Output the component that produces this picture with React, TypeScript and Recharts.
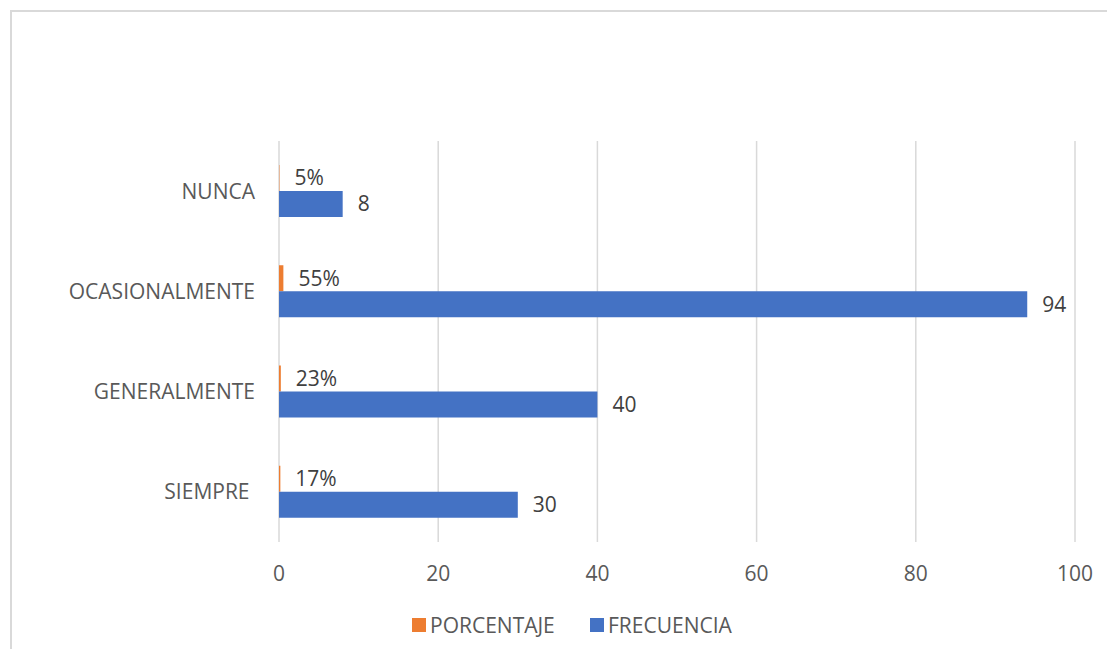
import React from 'react';
import { BarChart, Bar, XAxis, YAxis, CartesianGrid, LabelList, Legend } from 'recharts';

const categories = ['NUNCA', 'OCASIONALMENTE', 'GENERALMENTE', 'SIEMPRE\u00A0'];
const porcentaje = [0.05, 0.55, 0.23, 0.17];
const frecuencia = [8, 94, 40, 30];
const xTicks = [0, 20, 40, 60, 80, 100];
const seriesNames = ['PORCENTAJE', 'FRECUENCIA'];

const ORANGE = '#ED7D31';
const BLUE = '#4472C4';
const FONT = '"Open Sans", "Noto Sans", sans-serif';
const FS = 21;

const data = categories.map((c, i) => ({
  name: c,
  PORCENTAJE: porcentaje[i],
  FRECUENCIA: frecuencia[i],
}));

const LegendContent = () => (
  <div style={{ position: 'relative', width: 400, height: 28, fontFamily: FONT, fontSize: FS, color: '#595959' }}>
    {[
      { name: seriesNames[0], color: ORANGE, left: 0 },
      { name: seriesNames[1], color: BLUE, left: 178 },
    ].map((it) => (
      <div key={it.name} style={{ position: 'absolute', left: it.left, top: 0, height: 28, display: 'flex', alignItems: 'center' }}>
        <span style={{ display: 'inline-block', width: 14, height: 14, background: it.color, marginRight: 4 }} />
        <span style={{ whiteSpace: 'nowrap' }}>{it.name}</span>
      </div>
    ))}
  </div>
);

export default function App() {
  return (
    <div style={{ position: 'relative', width: 1115, height: 657, margin: -8, overflow: 'hidden', background: '#fff' }}>
      <div
        style={{
          position: 'absolute',
          left: 10,
          top: 10,
          width: 1200,
          height: 800,
          border: '2px solid #d9d9d9',
          boxSizing: 'border-box',
        }}
      />
      <div style={{ position: 'absolute', left: 0, top: 0 }}>
        <BarChart
          width={1115}
          height={657}
          data={data}
          layout="vertical"
          margin={{ top: 141, right: 40, bottom: 85, left: 0 }}
          barGap={0}
          style={{ fontFamily: FONT }}
        >
          <CartesianGrid horizontal={false} stroke="#d9d9d9" strokeWidth={1.5} />
          <XAxis
            type="number"
            domain={[0, 100]}
            ticks={xTicks}
            height={30}
            axisLine={false}
            tickLine={false}
            tickSize={0}
            tickMargin={24}
            tick={{ fill: '#595959', fontSize: FS, fontFamily: FONT }}
            interval={0}
          />
          <YAxis
            type="category"
            dataKey="name"
            width={279}
            axisLine={false}
            tickLine={false}
            tickSize={0}
            tickMargin={24}
            tick={{ fill: '#595959', fontSize: FS, fontFamily: FONT }}
            interval={0}
          />
          <Legend
            layout="horizontal"
            verticalAlign="middle"
            align="center"
            wrapperStyle={{ position: 'absolute', left: 412, top: 611, width: 400, height: 28 }}
            content={() => <LegendContent />}
          />
          <Bar dataKey="PORCENTAJE" fill={ORANGE} barSize={26} isAnimationActive={false}>
            <LabelList
              dataKey="PORCENTAJE"
              position="right"
              offset={15}
              formatter={(v: any) => `${Math.round(Number(v) * 100)}%`}
              style={{ fill: '#404040', fontSize: FS, fontFamily: FONT }}
            />
          </Bar>
          <Bar dataKey="FRECUENCIA" fill={BLUE} barSize={26} isAnimationActive={false}>
            <LabelList
              dataKey="FRECUENCIA"
              position="right"
              offset={15}
              style={{ fill: '#404040', fontSize: FS, fontFamily: FONT }}
            />
          </Bar>
        </BarChart>
      </div>
    </div>
  );
}
